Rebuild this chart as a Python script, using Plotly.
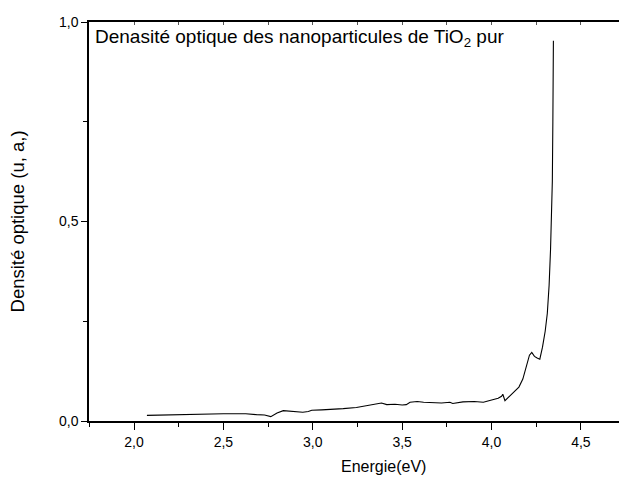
import plotly.graph_objects as go

# Optical density spectrum of pure TiO2 nanoparticles
energie_ev = [2.072, 2.15, 2.23, 2.305, 2.40, 2.50, 2.56, 2.625, 2.685, 2.73, 2.765,
              2.80, 2.835, 2.88, 2.944, 2.975, 2.994, 3.05, 3.104, 3.17, 3.244, 3.30,
              3.35, 3.384, 3.414, 3.46, 3.50, 3.523, 3.544, 3.584, 3.62, 3.663, 3.72,
              3.767, 3.783, 3.84, 3.879, 3.903, 3.954, 3.985, 4.019, 4.037, 4.056,
              4.063, 4.075, 4.112, 4.153, 4.175, 4.195, 4.212, 4.225, 4.24, 4.255,
              4.27, 4.285, 4.300, 4.312, 4.322, 4.330, 4.336, 4.340, 4.343, 4.346]
densite_optique = [0.014, 0.015, 0.015, 0.016, 0.017, 0.018, 0.018, 0.018, 0.016, 0.015, 0.011,
                   0.020, 0.026, 0.025, 0.022, 0.024, 0.027, 0.028, 0.029, 0.031, 0.034, 0.038,
                   0.042, 0.045, 0.041, 0.042, 0.040, 0.041, 0.047, 0.049, 0.047, 0.046, 0.045,
                   0.047, 0.044, 0.048, 0.048, 0.049, 0.047, 0.051, 0.056, 0.057, 0.062,
                   0.067, 0.051, 0.068, 0.085, 0.105, 0.135, 0.165, 0.172, 0.162, 0.158,
                   0.155, 0.185, 0.225, 0.270, 0.340, 0.430, 0.520, 0.600, 0.750, 0.953]

x_range = [1.748, 4.713]
y_range = [0.0, 1.0]
x_ticks = [2.0, 2.5, 3.0, 3.5, 4.0, 4.5]
y_ticks = [0.0, 0.5, 1.0]

font_family = "Liberation Sans, Arial, sans-serif"
ink = "#000000"

fig = go.Figure()
fig.add_trace(go.Scatter(
    x=energie_ev, y=densite_optique, mode="lines",
    line=dict(color=ink, width=1.1), showlegend=False,
))
# invisible trace carrying the top axis
fig.add_trace(go.Scatter(x=[x_range[0]], y=[0], xaxis="x2", mode="markers",
                         marker=dict(opacity=0), showlegend=False, hoverinfo="skip"))

fig.update_layout(
    width=619, height=477,
    margin=dict(l=89, r=0, t=22, b=56),
    paper_bgcolor="white", plot_bgcolor="white",
    separators=", ",
    font=dict(family=font_family, color=ink, size=14),
    xaxis=dict(
        range=x_range, tickvals=x_ticks, tickformat=".1f",
        showgrid=False, zeroline=False,
        showline=True, linecolor=ink, linewidth=1.5,
        ticks="outside", ticklen=7, tickwidth=1.2, tickcolor=ink,
        minor=dict(dtick=0.25, tick0=2.0, ticks="outside", ticklen=4,
                   tickwidth=1, tickcolor=ink),
        tickfont=dict(size=14),
    ),
    xaxis2=dict(
        range=x_range, overlaying="x", side="top",
        showticklabels=False, showgrid=False, zeroline=False,
        showline=True, linecolor=ink, linewidth=1.5,
        tick0=2.0, dtick=0.25, ticks="inside", ticklen=3, tickwidth=0.8, tickcolor="#555555",
    ),
    yaxis=dict(
        range=y_range, tickvals=y_ticks, tickformat=".1f",
        showgrid=False, zeroline=False,
        showline=True, linecolor=ink, linewidth=1.5,
        ticks="outside", ticklen=6, tickwidth=1.2, tickcolor=ink,
        minor=dict(dtick=0.25, tick0=0.0, ticks="outside", ticklen=4,
                   tickwidth=1, tickcolor=ink),
        tickfont=dict(size=14),
    ),
    annotations=[
        dict(text="Denasité optique des nanoparticules de TiO<sub>2</sub> pur",
             xref="paper", yref="paper", x=0, y=1, xanchor="left", yanchor="top",
             xshift=4, yshift=-2, showarrow=False, font=dict(size=19, color=ink)),
        dict(text="Energie(eV)", xref="paper", yref="paper",
             x=0.5566, y=-0.115, xanchor="center", yanchor="middle",
             showarrow=False, font=dict(size=16, color=ink)),
        dict(text="Densité optique (u, a,)", xref="paper", yref="paper",
             x=-0.134, y=0.5, xanchor="center", yanchor="middle", textangle=-90,
             showarrow=False, font=dict(size=18.5, color=ink)),
    ],
)

fig.write_html("out.html")
